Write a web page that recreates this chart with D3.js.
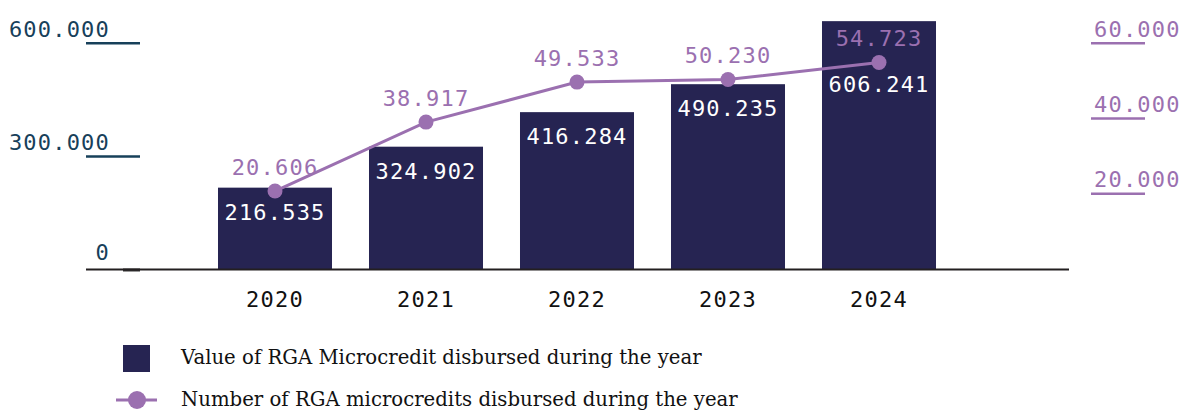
<!DOCTYPE html>
<html>
<head>
<meta charset="utf-8">
<script src="https://cdn.jsdelivr.net/npm/d3@7"></script>
<style>
  body { margin: 0; background: #fff; }
  svg text { font-family: "DejaVu Sans Mono", monospace; }
</style>
</head>
<body>
<div class="chart"></div>
<script>
var years = ["2020", "2021", "2022", "2023", "2024"];
// value of RGA microcredit disbursed (as printed on the bars)
var valueDisbursed = [216535, 324902, 416284, 490235, 606241];
// bar heights as drawn in the source (2024 bar is drawn taller than its label)
var barHeights = [216535, 324902, 416284, 490235, 657000];
// number of RGA microcredits disbursed
var countDisbursed = [20606, 38917, 49533, 50230, 54723];
var leftTicks = [0, 300000, 600000];
var rightTicks = [20000, 40000, 60000];
var legendLabels = ["Value of RGA Microcredit disbursed during the year",
                    "Number of RGA microcredits disbursed during the year"];

var w = 1181;
var h = 411;
var navy = "#262452";
var purple = "#9b70b0";
var teal = "#17405a";

var locale = d3.formatLocale({decimal: ",", thousands: ".", grouping: [3], currency: ["", ""]});
var fmt = locale.format(",.0f");

var data = years.map(function(y, i){
  return {year: y, bar: barHeights[i], value: valueDisbursed[i], count: countDisbursed[i]};
});

var svg = d3.select(".chart")
            .append("svg")
            .attr("width", w)
            .attr("height", h);

var xScale = d3.scaleBand()
               .domain(years)
               .range([199.5, 954.5])
               .paddingInner(0.245)
               .paddingOuter(0.1225);
var yLeft = d3.scaleLinear()
              .domain([0, 600000])
              .range([269.5, 42.7]);
var yRight = d3.scaleLinear()
               .domain([0, 60000])
               .range([268.6, 42.7]);

// bars
svg.append("g")
   .selectAll("rect")
   .data(data)
   .enter()
   .append("rect")
   .attr("x", function(d){ return xScale(d.year); })
   .attr("y", function(d){ return yLeft(d.bar); })
   .attr("width", xScale.bandwidth())
   .attr("height", function(d){ return yLeft(0) - yLeft(d.bar); })
   .attr("fill", navy);

// left axis
var leftAxis = d3.axisRight(yLeft)
                 .tickValues(leftTicks)
                 .tickSize(54)
                 .tickFormat(fmt);
var gl = svg.append("g")
            .attr("transform", "translate(86,0)")
            .call(leftAxis);
gl.select(".domain").remove();
gl.selectAll(".tick line")
  .attr("x1", function(d){ return d === 0 ? 37 : 0; })
  .attr("stroke", function(d){ return d === 0 ? "#333" : teal; })
  .attr("stroke-width", function(d){ return d === 0 ? 3 : 2.5; });
gl.selectAll(".tick text")
  .attr("x", 24)
  .attr("dy", function(d){ return d === 0 ? -10 : -6.5; })
  .attr("text-anchor", "end")
  .attr("fill", teal)
  .style("font-size", "22px")
  .style("letter-spacing", "1.2px");

// right axis
var rightAxis = d3.axisRight(yRight)
                  .tickValues(rightTicks)
                  .tickSize(54)
                  .tickFormat(fmt);
var gr = svg.append("g")
            .attr("transform", "translate(1091,0)")
            .call(rightAxis);
gr.select(".domain").remove();
gr.selectAll(".tick line")
  .attr("stroke", purple)
  .attr("stroke-width", 2.5);
gr.selectAll(".tick text")
  .attr("x", 3)
  .attr("dy", -6.5)
  .attr("text-anchor", "start")
  .attr("fill", purple)
  .style("font-size", "22px")
  .style("letter-spacing", "1.2px");

// baseline
svg.append("line")
   .attr("x1", 86)
   .attr("x2", 1069)
   .attr("y1", yLeft(0))
   .attr("y2", yLeft(0))
   .attr("stroke", "#231f20")
   .attr("stroke-width", 2.2);

// x labels
var xAxis = d3.axisBottom(xScale).tickSize(0);
var gx = svg.append("g")
            .attr("transform", "translate(0," + yLeft(0) + ")")
            .call(xAxis);
gx.select(".domain").remove();
gx.selectAll(".tick text")
  .attr("y", 0)
  .attr("dy", 37.5)
  .attr("fill", "#111")
  .style("font-size", "22px")
  .style("letter-spacing", "1.2px");

// line
var cx = function(d){ return xScale(d.year) + xScale.bandwidth() / 2; };
var line = d3.line()
             .x(cx)
             .y(function(d){ return yRight(d.count); });
svg.append("path")
   .datum(data)
   .attr("d", line)
   .attr("fill", "none")
   .attr("stroke", purple)
   .attr("stroke-width", 3);
svg.append("g")
   .selectAll("circle")
   .data(data)
   .enter()
   .append("circle")
   .attr("cx", cx)
   .attr("cy", function(d){ return yRight(d.count); })
   .attr("r", 7.5)
   .attr("fill", purple);

// count labels
svg.append("g")
   .selectAll("text")
   .data(data)
   .enter()
   .append("text")
   .attr("x", cx)
   .attr("y", function(d){ return yRight(d.count) - 16.5; })
   .attr("text-anchor", "middle")
   .attr("fill", purple)
   .style("font-size", "22px")
   .style("letter-spacing", "1.2px")
   .text(function(d){ return fmt(d.count); });

// bar labels, pushed below the dot when they would overlap it
svg.append("g")
   .selectAll("text")
   .data(data)
   .enter()
   .append("text")
   .attr("x", cx)
   .attr("y", function(d){
     return Math.max(yLeft(d.bar) + 32, yRight(d.count) + 29);
   })
   .attr("text-anchor", "middle")
   .attr("fill", "#fff")
   .style("font-size", "22px")
   .style("letter-spacing", "1.2px")
   .text(function(d){ return fmt(d.value); });

// legend
var lg = svg.append("g");
lg.append("rect")
  .attr("x", 123)
  .attr("y", 345)
  .attr("width", 27)
  .attr("height", 27)
  .attr("fill", navy);
lg.append("line")
  .attr("x1", 116)
  .attr("x2", 157)
  .attr("y1", 400)
  .attr("y2", 400)
  .attr("stroke", purple)
  .attr("stroke-width", 3);
lg.append("circle")
  .attr("cx", 137)
  .attr("cy", 400)
  .attr("r", 9)
  .attr("fill", purple);
lg.selectAll("text")
  .data(legendLabels)
  .enter()
  .append("text")
  .attr("x", 181)
  .attr("y", function(d, i){ return 364 + i * 42; })
  .attr("fill", "#111")
  .style("font-family", "'DejaVu Serif', serif")
  .style("font-size", "19.7px")
  .text(function(d){ return d; });
</script>
</body>
</html>
